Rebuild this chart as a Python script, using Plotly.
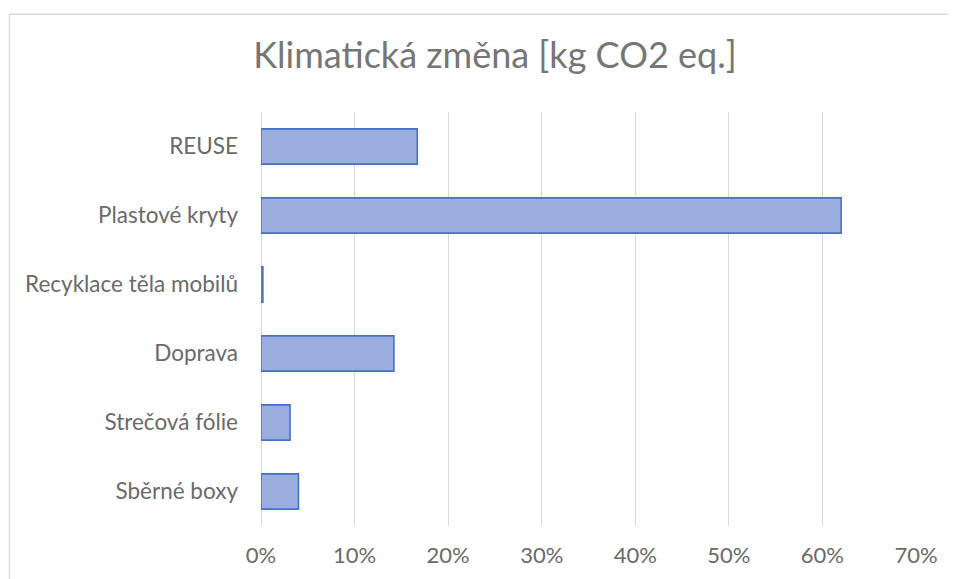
import plotly.graph_objects as go

categories = ["REUSE", "Plastové kryty", "Recyklace těla mobilů", "Doprava", "Strečová fólie", "Sběrné boxy"]
values = [0.167, 0.620, 0.002, 0.142, 0.031, 0.040]
x_ticks = [0, 0.1, 0.2, 0.3, 0.4, 0.5, 0.6, 0.7]

OFF = 8  # page body margin
W, H = 956, 579
PL, PR, PT, PB = 261, 916, 111.5, 526.5  # plot area in page pixels
L = PL - OFF
R = OFF + W - PR
T = PT - OFF
B = OFF + H - PB
pw, ph = PR - PL, PB - PT

def px_x(x):
    return (x - PL) / pw

def px_y(y):
    return (PB - y) / ph

fig = go.Figure(go.Bar(
    x=values, y=categories, orientation="h",
    marker=dict(color="#9CADDF", line=dict(color="#4472C4", width=1.6)),
))

fig.update_layout(
    width=W, height=H,
    margin=dict(l=L, r=R, t=T, b=B),
    paper_bgcolor="white", plot_bgcolor="white",
    bargap=0.49,
    showlegend=False,
    font=dict(family="Lato", color="#6a6a6a", size=22),
    title=dict(text="Klimatická změna [kg CO2 eq.]", x=(495 - OFF) / W, xanchor="center",
               y=1 - (55.5 - OFF) / H, yanchor="middle", yref="container",
               font=dict(family="Lato", size=36, color="#767676")),
    xaxis=dict(range=[0, 0.7], tickvals=x_ticks, tickformat=".0%",
               showgrid=True, gridcolor="#D9D9D9", gridwidth=1.3,
               zeroline=True, zerolinecolor="#D9D9D9", zerolinewidth=1.3,
               showline=False, ticks="", ticklabelstandoff=14, fixedrange=True,
               tickfont=dict(size=22)),
    yaxis=dict(autorange="reversed", showgrid=False, showline=False, zeroline=False,
               ticks="", ticklabelstandoff=22, fixedrange=True,
               tickfont=dict(size=22.5)),
    shapes=[dict(type="rect", xref="paper", yref="paper",
                 x0=px_x(9.5), x1=px_x(990), y0=px_y(620), y1=px_y(13.5),
                 line=dict(color="#D9D9D9", width=1.3), fillcolor="rgba(0,0,0,0)", layer="below")],
)

fig.write_html("out.html")
